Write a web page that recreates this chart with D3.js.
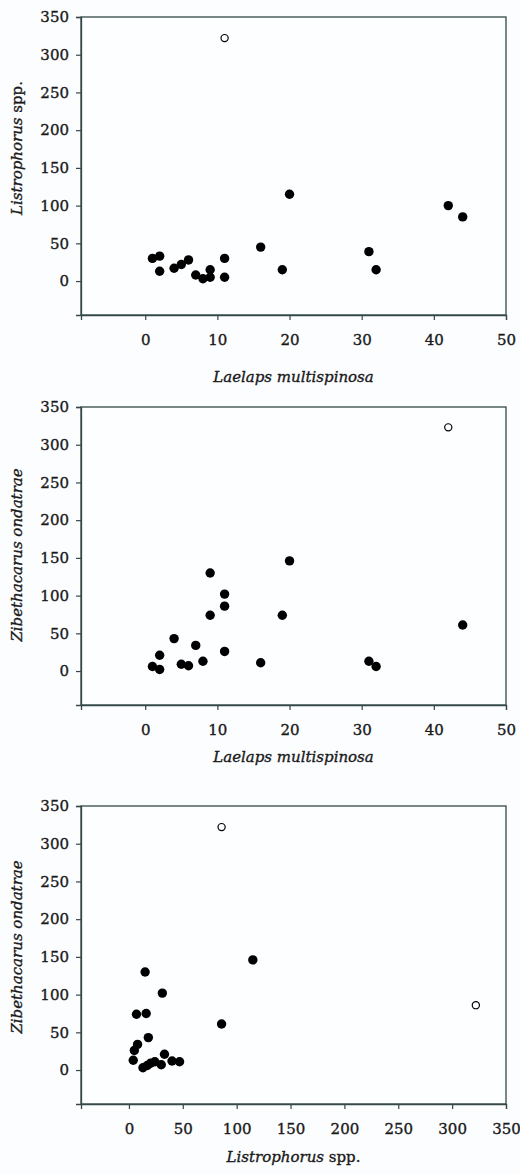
<!DOCTYPE html>
<html>
<head>
<meta charset="utf-8">
<script src="https://cdn.jsdelivr.net/npm/d3@7"></script>
<style>
  html, body { margin: 0; padding: 0; background: #fcfdff; }
  svg { display: block; }
  text { font-family: "DejaVu Serif", serif; fill: #1a1a1a; stroke: #1a1a1a; stroke-width: 0.35px; }
</style>
</head>
<body>
<div id="chart"></div>
<script>
// ---- Data ----
// Panel 1: Laelaps multispinosa (x) vs Listrophorus spp. (y)
const p1X = [1, 2, 2, 4, 5, 6, 7, 8, 9, 9, 11, 11, 16, 19, 20, 31, 32, 42, 44];
const p1Y = [30, 33, 13, 17, 22, 28, 8, 3, 15, 5, 30, 5, 45, 15, 115, 39, 15, 100, 85];
const p1OpenX = [11];
const p1OpenY = [322];

// Panel 2: Laelaps multispinosa (x) vs Zibethacarus ondatrae (y)
const p2X = [1, 2, 2, 4, 5, 6, 7, 8, 9, 9, 11, 11, 11, 16, 19, 20, 31, 32, 44];
const p2Y = [6, 21, 2, 43, 9, 7, 34, 13, 130, 74, 102, 86, 26, 11, 74, 146, 13, 6, 61];
const p2OpenX = [42];
const p2OpenY = [323];

// Panel 3: Listrophorus spp. (x) vs Zibethacarus ondatrae (y)
const p3X = [15, 115, 31, 7, 16, 86, 18, 8, 5, 4, 13, 17, 20, 24, 30, 33, 40, 47];
const p3Y = [130, 146, 102, 74, 75, 61, 43, 34, 26, 13, 3, 6, 9, 11, 7, 21, 12, 11];
const p3OpenX = [86, 322];
const p3OpenY = [322, 86];

const yTicks = [0, 50, 100, 150, 200, 250, 300, 350];
const xTicksSmall = [0, 10, 20, 30, 40, 50];
const xTicksLarge = [0, 50, 100, 150, 200, 250, 300, 350];

const panels = [
  { xs: p1X, ys: p1Y, ox: p1OpenX, oy: p1OpenY, xDomain: [-8.9, 50], xTicks: xTicksSmall,
    xLabel: [{t: "Laelaps multispinosa", i: true}],
    yLabel: [{t: "Listrophorus", i: true}, {t: " spp.", i: false}] },
  { xs: p2X, ys: p2Y, ox: p2OpenX, oy: p2OpenY, xDomain: [-8.9, 50], xTicks: xTicksSmall,
    xLabel: [{t: "Laelaps multispinosa", i: true}],
    yLabel: [{t: "Zibethacarus ondatrae", i: true}] },
  { xs: p3X, ys: p3Y, ox: p3OpenX, oy: p3OpenY, xDomain: [-44.5, 350], xTicks: xTicksLarge,
    xLabel: [{t: "Listrophorus", i: true}, {t: " spp.", i: false}],
    yLabel: [{t: "Zibethacarus ondatrae", i: true}] }
];

// ---- Layout ----
const W = 520, H = 1174;
const left = 81, right = 506;
const tops = [17, 407, 806];
const plotH = 298;
const xTitleY = [382, 762, 1162];
const yTitleCY = [148, 555, 947];
const axisColor = "#344848";

const svg = d3.select("#chart").append("svg")
  .attr("width", W).attr("height", H);

panels.forEach((p, k) => {
  const top = tops[k], bottom = top + plotH;
  const x = d3.scaleLinear().domain(p.xDomain).range([left, right]);
  const y = d3.scaleLinear().domain([-45, 350]).range([bottom, top]);

  const g = svg.append("g");

  // frame
  g.append("rect")
    .attr("x", left).attr("y", top)
    .attr("width", right - left).attr("height", plotH)
    .attr("fill", "#fdfeff")
    .attr("stroke", axisColor).attr("stroke-width", 1.3);

  // y axis
  const ya = g.append("g").attr("transform", `translate(${left},0)`)
    .call(d3.axisLeft(y).tickValues(yTicks).tickSize(5).tickPadding(7).tickFormat(d3.format("d")));
  ya.select(".domain").attr("stroke", axisColor).attr("stroke-width", 1.3);
  ya.selectAll(".tick line").attr("stroke", axisColor).attr("stroke-width", 1.2);
  ya.selectAll(".tick text").attr("font-size", 15).attr("font-family", "DejaVu Serif").attr("fill", "#1a1a1a");

  // x axis
  const xa = g.append("g").attr("transform", `translate(0,${bottom})`)
    .call(d3.axisBottom(x).tickValues(p.xTicks).tickSize(5).tickPadding(14).tickFormat(d3.format("d")));
  xa.select(".domain").attr("stroke", axisColor).attr("stroke-width", 1.3);
  xa.selectAll(".tick line").attr("stroke", axisColor).attr("stroke-width", 1.2);
  xa.selectAll(".tick text").attr("font-size", 15).attr("font-family", "DejaVu Serif").attr("fill", "#1a1a1a");

  // filled points
  g.append("g").selectAll("circle")
    .data(p.xs.map((v, i) => [v, p.ys[i]]))
    .join("circle")
    .attr("cx", d => x(d[0])).attr("cy", d => y(d[1]))
    .attr("r", 4.7).attr("fill", "#000");

  // open points
  g.append("g").selectAll("circle")
    .data(p.ox.map((v, i) => [v, p.oy[i]]))
    .join("circle")
    .attr("cx", d => x(d[0])).attr("cy", d => y(d[1]))
    .attr("r", 3.6).attr("fill", "#fff")
    .attr("stroke", "#000").attr("stroke-width", 1.2);

  // x title
  const xt = g.append("text")
    .attr("x", (left + right) / 2).attr("y", xTitleY[k])
    .attr("text-anchor", "middle").attr("font-size", 15);
  p.xLabel.forEach(s => xt.append("tspan").attr("font-style", s.i ? "italic" : "normal").text(s.t));

  // y title
  const yt = g.append("text")
    .attr("transform", `translate(22,${yTitleCY[k]}) rotate(-90)`)
    .attr("text-anchor", "middle").attr("font-size", 15);
  p.yLabel.forEach(s => yt.append("tspan").attr("font-style", s.i ? "italic" : "normal").text(s.t));
});
</script>
</body>
</html>
